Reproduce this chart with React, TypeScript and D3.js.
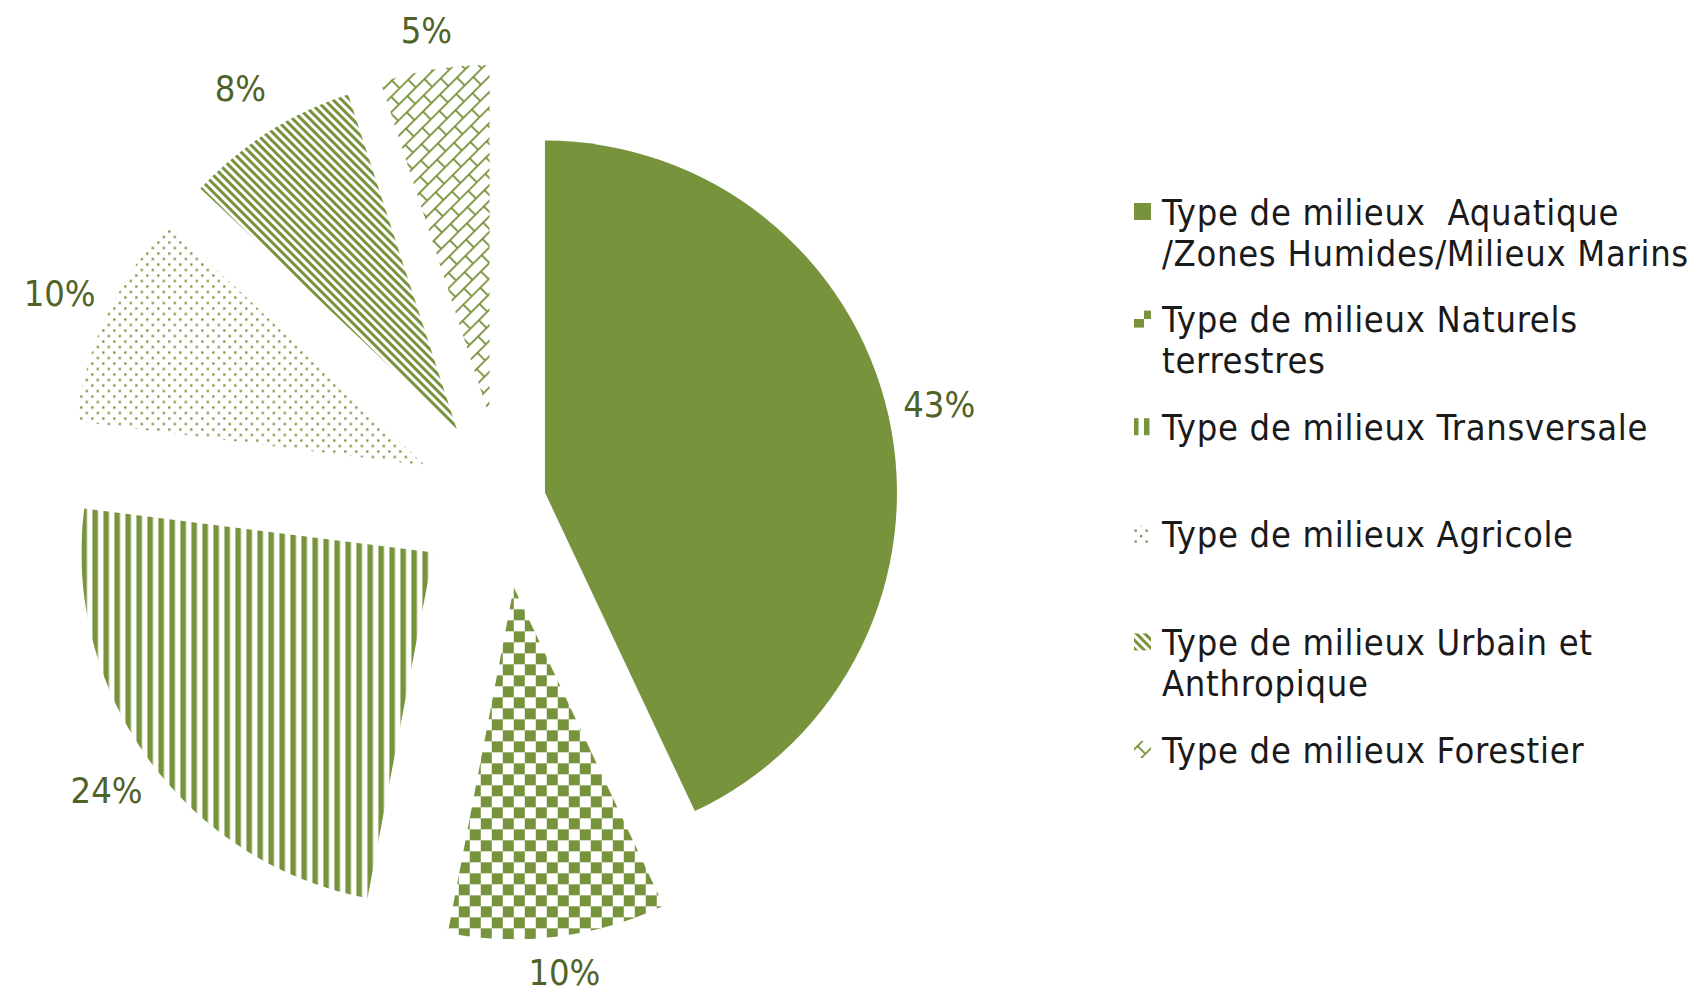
import React from 'react';
import * as d3 from 'd3';

// chart data
const categories = [
  'Type de milieux  Aquatique /Zones Humides/Milieux Marins',
  'Type de milieux Naturels terrestres',
  'Type de milieux Transversale',
  'Type de milieux Agricole',
  'Type de milieux Urbain et Anthropique',
  'Type de milieux Forestier',
];
const legendLines = [
  ['Type de milieux  Aquatique', '/Zones Humides/Milieux Marins'],
  ['Type de milieux Naturels', 'terrestres'],
  ['Type de milieux Transversale'],
  ['Type de milieux Agricole'],
  ['Type de milieux Urbain et', 'Anthropique'],
  ['Type de milieux Forestier'],
];
const values = [43, 10, 24, 10, 8, 5];
const valueLabels = ['43%', '10%', '24%', '10%', '8%', '5%'];

// look
const W = 1690;
const H = 993;
const GREEN = '#77933C';
const LABEL = '#4F6228';
const FONT = '"DejaVu Sans Condensed", "DejaVu Sans", sans-serif';
const patterns = ['solid', 'checker', 'vlines', 'dots', 'diag', 'brick'];
const explode = [43, 86, 86, 86, 86, 86];

const App = () => {
  const cx = 503;
  const cy = 502;
  const radius = 352;

  const pie = d3.pie<number>().sort(null).startAngle(0).endAngle(2 * Math.PI);
  const arcs = pie(values);
  const arc = d3.arc<d3.PieArcDatum<number>>().innerRadius(0).outerRadius(radius);

  const fillFor = (i: number) => (patterns[i] === 'solid' ? GREEN : `url(#p-${patterns[i]})`);

  const legendX = 1134;
  const legendTop = 212;
  const legendStep = 107.6;

  return (
    <div style={{ position: 'absolute', left: 0, top: 0 }}>
      <svg width={W} height={H} style={{ display: 'block', background: '#fff' }}>
        <defs>
          <pattern id="p-checker" patternUnits="userSpaceOnUse" width={22} height={22}>
            <rect width={22} height={22} fill="#fff" />
            <rect x={0} y={0} width={11} height={11} fill={GREEN} />
            <rect x={11} y={11} width={11} height={11} fill={GREEN} />
          </pattern>
          <pattern id="p-vlines" patternUnits="userSpaceOnUse" width={11} height={11}>
            <rect width={11} height={11} fill="#fff" />
            <rect x={0} y={0} width={5.5} height={11} fill={GREEN} />
          </pattern>
          <pattern id="p-dots" patternUnits="userSpaceOnUse" width={11} height={11}>
            <rect width={11} height={11} fill="#fff" />
            <rect x={1.5} y={1.5} width={2.3} height={2.3} fill={GREEN} />
            <rect x={7} y={7} width={2.3} height={2.3} fill={GREEN} />
          </pattern>
          <pattern id="p-diag" patternUnits="userSpaceOnUse" width={6} height={6} patternTransform="rotate(-45)">
            <rect width={6} height={6} fill="#fff" />
            <rect x={0} y={0} width={3} height={6} fill={GREEN} />
          </pattern>
          <pattern id="p-brick" patternUnits="userSpaceOnUse" width={24} height={22} patternTransform="rotate(-45)">
            <rect width={24} height={22} fill="#fff" />
            <g stroke={GREEN} strokeWidth={1.8}>
              <line x1={0} y1={0.9} x2={24} y2={0.9} />
              <line x1={0} y1={11.9} x2={24} y2={11.9} />
              <line x1={0.9} y1={0} x2={0.9} y2={11} />
              <line x1={12.9} y1={11} x2={12.9} y2={22} />
            </g>
          </pattern>
        </defs>

        <g transform={`translate(${cx},${cy})`}>
          {arcs.map((a, i) => {
            const mid = (a.startAngle + a.endAngle) / 2;
            const dx = Math.sin(mid) * explode[i];
            const dy = -Math.cos(mid) * explode[i];
            const lr = radius + 52;
            // keep the label inside the picture
            const ly = Math.max(
              Math.min(-Math.cos(mid) * lr, H - 20 - cy - dy),
              30 - cy - dy
            );
            return (
              <g key={categories[i]} transform={`translate(${dx},${dy})`}>
                <path d={arc(a) || ''} fill={fillFor(i)} />
                <text
                  x={Math.sin(mid) * lr}
                  y={ly}
                  textAnchor="middle"
                  dominantBaseline="central"
                  fontFamily={FONT}
                  fontSize={36}
                  fill={LABEL}
                >
                  {valueLabels[i]}
                </text>
              </g>
            );
          })}
        </g>

        <g fontFamily={FONT} fontSize={36} fill="#1a1a1a" letterSpacing={0.7}>
          {legendLines.map((lines, i) => {
            const y0 = legendTop + i * legendStep;
            return (
              <g key={categories[i]}>
                <rect x={legendX} y={y0 - 9} width={17} height={17} fill={fillFor(i)} />
                {lines.map((ln, j) => (
                  <text
                    key={j}
                    x={legendX + 28}
                    y={y0 + j * 41}
                    dominantBaseline="central"
                    style={{ whiteSpace: 'pre' }}
                  >
                    {ln}
                  </text>
                ))}
              </g>
            );
          })}
        </g>
      </svg>
    </div>
  );
};

export default App;
